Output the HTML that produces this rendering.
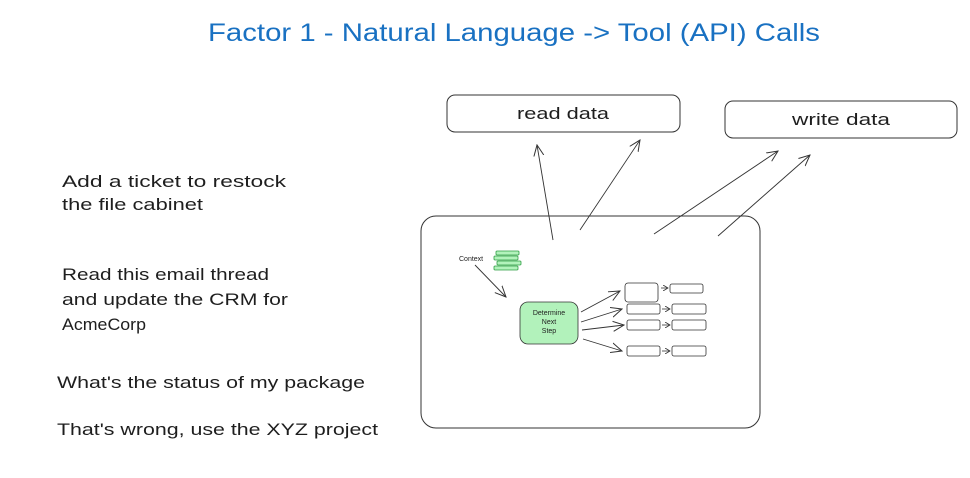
<!DOCTYPE html><html><head><style>body{margin:0;background:#fff}svg{display:block}text{font-family:"Liberation Sans",sans-serif}</style></head><body>
<svg width="970" height="478" viewBox="0 0 970 478" xmlns="http://www.w3.org/2000/svg">
<defs><marker id="a" markerWidth="12" markerHeight="12" refX="11" refY="6" orient="auto" markerUnits="userSpaceOnUse"><path d="M0,1 L11,6 L0,11" fill="none" stroke="#333" stroke-width="1"/></marker>
<marker id="s" markerWidth="6" markerHeight="6" refX="5" refY="3" orient="auto" markerUnits="userSpaceOnUse"><path d="M0,0 L5,3 L0,6" fill="none" stroke="#333" stroke-width="0.8"/></marker></defs>
<text x="208" y="41" textLength="612" lengthAdjust="spacingAndGlyphs" font-size="25" fill="#1971c2">Factor 1 - Natural Language -&gt; Tool (API) Calls</text>
<rect x="447" y="95" width="233" height="37" rx="8" fill="none" stroke="#333"/>
<text x="517" y="119" textLength="92" lengthAdjust="spacingAndGlyphs" font-size="17" fill="#1e1e1e">read data</text>
<rect x="725" y="101" width="232" height="37" rx="8" fill="none" stroke="#333"/>
<text x="792" y="125" textLength="98" lengthAdjust="spacingAndGlyphs" font-size="17" fill="#1e1e1e">write data</text>
<rect x="421" y="216" width="339" height="212" rx="15" fill="none" stroke="#333"/>
<g stroke="#333" stroke-width="0.9" fill="none" marker-end="url(#a)">
<line x1="553" y1="240" x2="537" y2="145"/><line x1="580" y1="230" x2="640" y2="140"/>
<line x1="654" y1="234" x2="778" y2="151"/><line x1="718" y1="236" x2="810" y2="155"/>
<line x1="475" y1="265" x2="506" y2="297"/>
<line x1="581" y1="312" x2="620" y2="291"/><line x1="581" y1="322" x2="622" y2="309"/>
<line x1="582" y1="330" x2="624" y2="325"/><line x1="583" y1="339" x2="622" y2="351"/>
</g>
<g font-size="17" fill="#1e1e1e" lengthAdjust="spacingAndGlyphs">
<text x="62" y="187" textLength="224" lengthAdjust="spacingAndGlyphs">Add a ticket to restock</text><text x="62" y="210" textLength="141" lengthAdjust="spacingAndGlyphs">the file cabinet</text>
<text x="62" y="280" textLength="207" lengthAdjust="spacingAndGlyphs">Read this email thread</text><text x="62" y="305" textLength="226" lengthAdjust="spacingAndGlyphs">and update the CRM for</text><text x="62" y="330" textLength="84" lengthAdjust="spacingAndGlyphs">AcmeCorp</text>
<text x="57" y="388" textLength="308" lengthAdjust="spacingAndGlyphs">What's the status of my package</text>
<text x="57" y="435" textLength="321" lengthAdjust="spacingAndGlyphs">That's wrong, use the XYZ project</text></g>
<text x="459" y="261" font-size="7" fill="#1e1e1e">Context</text>
<g fill="#b2f2bb" stroke="#2f9e44" stroke-width="0.8">
<rect x="496" y="251" width="23" height="4" rx="1"/><rect x="494" y="256" width="24" height="4" rx="1"/>
<rect x="497" y="261" width="24" height="4" rx="1"/><rect x="494" y="266" width="24" height="4" rx="1"/></g>
<rect x="520" y="302" width="58" height="42" rx="8" fill="#b2f2bb" stroke="#333" stroke-width="0.8"/>
<g font-size="7" text-anchor="middle" fill="#1e1e1e"><text x="549" y="315">Determine</text><text x="549" y="324">Next</text><text x="549" y="333">Step</text></g>
<g fill="none" stroke="#333" stroke-width="0.8">
<rect x="625" y="283" width="33" height="19" rx="3"/><rect x="670" y="284" width="33" height="9" rx="2"/>
<rect x="627" y="304" width="33" height="10" rx="2"/><rect x="672" y="304" width="34" height="10" rx="2"/>
<rect x="627" y="320" width="33" height="10" rx="2"/><rect x="672" y="320" width="34" height="10" rx="2"/>
<rect x="627" y="346" width="33" height="10" rx="2"/><rect x="672" y="346" width="34" height="10" rx="2"/>
</g>
<g stroke="#333" stroke-width="0.8" marker-end="url(#s)">
<line x1="661" y1="288" x2="668" y2="288"/><line x1="662" y1="309" x2="670" y2="309"/>
<line x1="662" y1="325" x2="670" y2="325"/><line x1="662" y1="351" x2="670" y2="351"/></g>
</svg></body></html>
